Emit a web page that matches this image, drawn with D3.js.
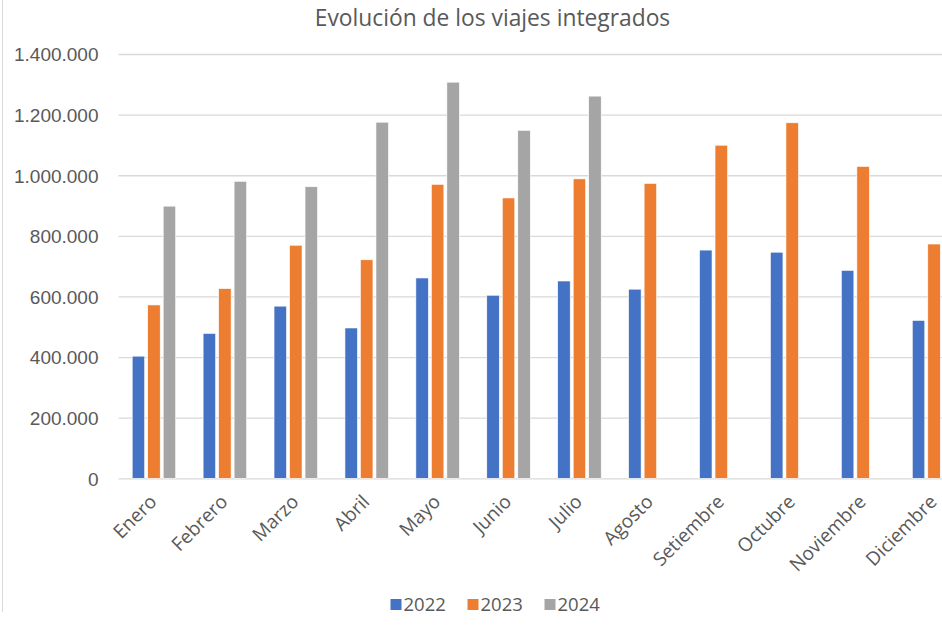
<!DOCTYPE html>
<html>
<head>
<meta charset="utf-8">
<script src="https://cdn.jsdelivr.net/npm/d3@7"></script>
<style>
  body { margin: 0; background: #fff; }
  svg { display: block; font-family: "Open Sans", sans-serif; }
</style>
</head>
<body>
<div class="chart"></div>
<script>
// datos
let meses = ["Enero", "Febrero", "Marzo", "Abril", "Mayo", "Junio", "Julio", "Agosto", "Setiembre", "Octubre", "Noviembre", "Diciembre"];
let anios = ["2022", "2023", "2024"];
let viajes2022 = [403000, 478000, 568000, 496000, 661000, 604000, 651000, 624000, 753000, 746000, 686000, 521000];
let viajes2023 = [572000, 626000, 769000, 721000, 970000, 925000, 988000, 973000, 1099000, 1173000, 1029000, 773000];
let viajes2024 = [898000, 980000, 962000, 1175000, 1307000, 1148000, 1261000, null, null, null, null, null];
let colores = ["#4472C4", "#ED7D31", "#A5A5A5"];
let yTicks = [0, 200000, 400000, 600000, 800000, 1000000, 1200000, 1400000];

function dibujar() {
    let width = 942, height = 628;
    let svg = d3.select(".chart").append("svg").attr("width", width).attr("height", height);

    let series = [viajes2022, viajes2023, viajes2024];
    let datos = meses.map(function (m, i) {
        return {mes: m, valores: anios.map(function (a, j) { return {anio: a, valor: series[j][i]}; })};
    });

    let x0 = d3.scaleBand().domain(meses).range([118.5, 969.5]).padding(0),
        x1 = d3.scaleBand().domain(anios).range([13.7, 57.2]).paddingInner(0.194),
        y = d3.scaleLinear().domain([0, 1400000]).range([478.3, 54]),
        color = d3.scaleOrdinal().domain(anios).range(colores);

    let es = d3.formatLocale({decimal: ",", thousands: ".", grouping: [3], currency: ["", ""]});
    let fmt = es.format(",d");

    // borde de la hoja a la izquierda
    svg.append("line").attr("x1", 2.5).attr("x2", 2.5).attr("y1", 0).attr("y2", 612)
        .attr("stroke", "#d9d9d9").attr("stroke-width", 1);

    // titulo
    svg.append("text")
        .attr("x", 492.5).attr("y", 26)
        .attr("text-anchor", "middle")
        .attr("fill", "#595959")
        .style("font-size", "22.8px")
        .text("Evolución de los viajes integrados");

    // grilla y eje y
    let gy = svg.append("g").attr("class", "eje-y")
        .attr("transform", "translate(118.5,0)")
        .call(d3.axisLeft(y).tickValues(yTicks).tickFormat(fmt).tickSize(-(width - 118.5)).tickPadding(20));
    gy.select(".domain").remove();
    gy.selectAll(".tick line").attr("stroke", "#d9d9d9").attr("stroke-width", 1.3);
    gy.selectAll(".tick text").attr("fill", "#595959").style("font-size", "19px").attr("dy", "0.36em");

    // barras
    let grupo = svg.selectAll(".mes")
        .data(datos)
        .enter().append("g")
        .attr("class", "mes")
        .attr("transform", function (d) { return "translate(" + x0(d.mes) + ",0)"; });

    grupo.selectAll("rect")
        .data(function (d) { return d.valores.filter(function (v) { return v.valor != null; }); })
        .enter().append("rect")
        .attr("x", function (d) { return x1(d.anio); })
        .attr("width", x1.bandwidth())
        .attr("y", function (d) { return y(d.valor); })
        .attr("height", function (d) { return y(0) - y(d.valor); })
        .attr("fill", function (d) { return color(d.anio); })
        .attr("stroke", "#fff")
        .attr("stroke-width", 0.6);

    // etiquetas del eje x
    svg.append("g").attr("class", "eje-x")
        .selectAll("text")
        .data(meses)
        .enter().append("text")
        .attr("transform", function (d) {
            return "translate(" + (x0(d) + x0.bandwidth() / 2 + 4) + ",503) rotate(-45)";
        })
        .attr("text-anchor", "end")
        .attr("fill", "#595959")
        .style("font-size", "19px")
        .text(function (d) { return d; });

    // leyenda
    let leyenda = svg.append("g").attr("class", "leyenda")
        .selectAll("g")
        .data(anios)
        .enter().append("g")
        .attr("transform", function (d, i) { return "translate(" + (390.5 + i * 77) + ",599)"; });

    leyenda.append("rect")
        .attr("width", 11).attr("height", 11)
        .attr("fill", function (d) { return color(d); });

    leyenda.append("text")
        .attr("x", 13).attr("y", 12)
        .attr("fill", "#595959")
        .style("font-size", "18.5px")
        .text(function (d) { return d; });
}

dibujar();
</script>
</body>
</html>
